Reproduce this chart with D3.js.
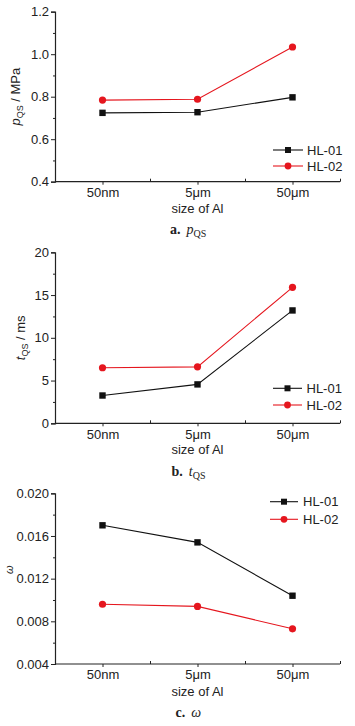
<!DOCTYPE html>
<html><head><meta charset="utf-8">
<script src="https://cdn.jsdelivr.net/npm/d3@7"></script>
<style>
html,body{margin:0;padding:0;background:#fff;}
svg{display:block;}
text{font-family:"Liberation Sans",Arial,sans-serif;fill:#222;}
.cap{font-family:"Liberation Serif","Times New Roman",serif;}
</style></head>
<body>
<script>
// ---- data ----
const categories = ["50nm", "5\u03bcm", "50\u03bcm"];
const seriesNames = ["HL-01", "HL-02"];
const pQS_HL01 = [0.724, 0.727, 0.797];
const pQS_HL02 = [0.784, 0.788, 1.034];
const tQS_HL01 = [3.25, 4.55, 13.2];
const tQS_HL02 = [6.5, 6.6, 15.9];
const omega_HL01 = [0.0170, 0.0154, 0.0104];
const omega_HL02 = [0.0096, 0.0094, 0.0073];
const pTicks = [0.4, 0.6, 0.8, 1.0, 1.2];
const tTicks = [0, 5, 10, 15, 20];
const wTicks = [0.004, 0.008, 0.012, 0.016, 0.020];
const xTitle = "size of Al";

const W = 355, H = 726;
const svg = d3.select("body").append("svg").attr("width", W).attr("height", H);
const RED = "#e5161e", BLACK = "#111";

const panels = [
  {s1: pQS_HL01, s2: pQS_HL02, ticks: pTicks, minorStep: 0.1, fmt: d3.format(".1f"),
   top: 11.7, bottom: 181.7, ytitle: "p", sub: "QS", unit: " / MPa", ytx: 20,
   leg: {x1: 273, x2: 303, tx: 307, y1: 150, y2: 166},
   xlabY: 198, xtitleY: 212.5, cap: {x: 170, y: 234, a: "a.", v: "p", sub: "QS"}},
  {s1: tQS_HL01, s2: tQS_HL02, ticks: tTicks, minorStep: 2.5, fmt: d3.format("d"),
   top: 252.3, bottom: 423.3, ytitle: "t", sub: "QS", unit: " / ms", ytx: 25,
   leg: {x1: 273, x2: 302, tx: 306.5, y1: 388.3, y2: 405},
   xlabY: 441.5, xtitleY: 454, cap: {x: 171.5, y: 476, a: "b.", v: "t", sub: "QS"}},
  {s1: omega_HL01, s2: omega_HL02, ticks: wTicks, minorStep: 0.002, fmt: d3.format(".3f"),
   top: 493.3, bottom: 664, ytitle: "\u03c9", sub: "", unit: "", ytx: 13,
   leg: {x1: 270, x2: 298, tx: 303, y1: 501.7, y2: 519.3},
   xlabY: 682, xtitleY: 695.5, cap: {x: 175.5, y: 717, a: "c.", v: "\u03c9", sub: ""}}
];

const x = d3.scaleLinear().domain([-0.5, 2.5]).range([55, 340]);

panels.forEach(p => {
  const y = d3.scaleLinear().domain([p.ticks[0], p.ticks[p.ticks.length-1]]).range([p.bottom, p.top]);
  const g = svg.append("g");

  // y axis
  const ya = g.append("g").attr("transform", `translate(55,0)`)
    .call(d3.axisLeft(y).tickValues(p.ticks).tickFormat(p.fmt).tickSize(4).tickPadding(2));
  ya.select(".domain").attr("stroke", "#222").attr("stroke-width", 1.2);
  ya.selectAll(".tick line").attr("stroke", "#222");
  ya.selectAll(".tick text").style("font-size", "13px").style("font-family", "Liberation Sans, Arial, sans-serif").attr("fill", "#222");
  const minors = d3.range(p.ticks[0], p.ticks[p.ticks.length-1] + 1e-9, p.minorStep)
    .filter(v => !p.ticks.some(t => Math.abs(t - v) < 1e-9));
  const ym = g.append("g").attr("transform", `translate(55,0)`)
    .call(d3.axisLeft(y).tickValues(minors).tickFormat("").tickSize(2));
  ym.select(".domain").remove();
  ym.selectAll(".tick line").attr("stroke", "#222");

  // x axis
  const xa = g.append("g").attr("transform", `translate(0,${p.bottom})`)
    .call(d3.axisBottom(x).tickValues([0, 1, 2]).tickFormat(i => categories[i]).tickSize(3).tickPadding(3));
  xa.select(".domain").attr("stroke", "#222").attr("stroke-width", 1.2).attr("d", `M55,0H340`);
  xa.selectAll(".tick line").attr("stroke", "#222");
  xa.selectAll(".tick text").style("font-size", "13px").style("font-family", "Liberation Sans, Arial, sans-serif").attr("fill", "#222");
  const xm = g.append("g").attr("transform", `translate(0,${p.bottom})`)
    .call(d3.axisBottom(x).tickValues([0.5, 1.5, 2.5]).tickFormat("").tickSize(-3));
  xm.select(".domain").remove();
  xm.selectAll(".tick line").attr("stroke", "#222");

  // x title
  g.append("text").attr("x", 197.5).attr("y", p.xtitleY).attr("text-anchor", "middle")
    .style("font-size", "13px").text(xTitle);

  // y title
  const yc = (p.top + p.bottom) / 2;
  const yt = g.append("text").attr("transform", `translate(${p.ytx},${p.sub ? yc : yc - 9}) rotate(-90)`)
    .attr("text-anchor", "middle").style("font-size", p.sub ? "13px" : "11px");
  yt.append("tspan").attr("font-style", "italic").text(p.ytitle);
  if (p.sub) {
    yt.append("tspan").attr("dy", 3).style("font-size", "9px").text(p.sub);
    yt.append("tspan").attr("dy", -3).text(p.unit);
  }

  // series
  const line = d3.line().x((d, i) => x(i)).y(d => y(d));
  [[p.s1, BLACK], [p.s2, RED]].forEach(([s, c], k) => {
    g.append("path").datum(s).attr("d", line).attr("fill", "none").attr("stroke", c).attr("stroke-width", 1.1);
    if (k === 0) {
      g.selectAll(null).data(s).enter().append("rect")
        .attr("x", (d, i) => x(i) - 3.2).attr("y", d => y(d) - 3.2)
        .attr("width", 6.4).attr("height", 6.4).attr("fill", c);
    } else {
      g.selectAll(null).data(s).enter().append("circle")
        .attr("cx", (d, i) => x(i)).attr("cy", d => y(d)).attr("r", 3.6).attr("fill", c);
    }
  });

  // legend
  const L = p.leg;
  [[L.y1, BLACK, 0], [L.y2, RED, 1]].forEach(([ly, c, k]) => {
    g.append("line").attr("x1", L.x1).attr("x2", L.x2).attr("y1", ly).attr("y2", ly)
      .attr("stroke", c).attr("stroke-width", 1.1);
    const mx = (L.x1 + L.x2) / 2;
    if (k === 0) g.append("rect").attr("x", mx - 3).attr("y", ly - 3).attr("width", 6).attr("height", 6).attr("fill", c);
    else g.append("circle").attr("cx", mx).attr("cy", ly).attr("r", 3.4).attr("fill", c);
    g.append("text").attr("x", L.tx).attr("y", ly + 4.7).style("font-size", "13px").text(seriesNames[k]);
  });

  // caption
  const C = p.cap;
  const ct = g.append("text").attr("class", "cap").attr("x", C.x).attr("y", C.y).style("font-size", "14px");
  ct.append("tspan").attr("font-weight", "bold").text(C.a);
  ct.append("tspan").attr("dx", 6).attr("font-style", "italic").text(C.v);
  if (C.sub) ct.append("tspan").attr("dy", 3).style("font-size", "10px").text(C.sub);
});
</script>
</body></html>
